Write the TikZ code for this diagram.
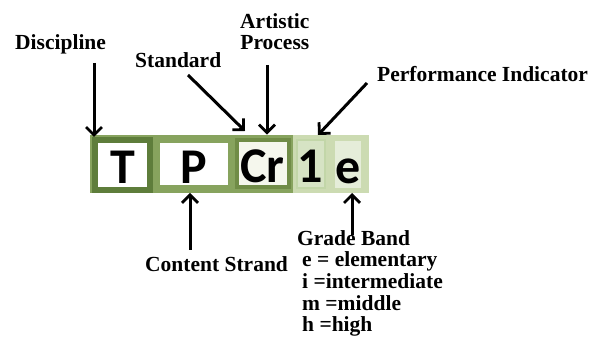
\documentclass[tikz,border=0pt]{standalone}
\usepackage{fontspec}
\setmainfont{Liberation Serif}
\newfontfamily\boxfont{Carlito}
\usepackage{tikz}
\usetikzlibrary{arrows.meta,positioning}

\begin{document}
\begin{tikzpicture}[x=1pt,y=1pt,
  lbl/.style={inner sep=0pt,anchor=base west,font=\bfseries\fontsize{21.5}{21.7}\selectfont},
  letter/.style={inner sep=0pt,text height=38pt,text depth=0pt,font=\boxfont\bfseries\fontsize{50}{50}\selectfont},
  arr/.style={line width=3pt,-{Straight Barb[length=8pt,width=16pt,line width=2.8pt]}}]
%
\useasboundingbox (0,0) rectangle (592,348);
\fill[white] (0,0) rectangle (592,348);
%
\definecolor{cband}{rgb}{0.80,0.86,0.70}
\definecolor{cmid}{rgb}{0.53,0.64,0.37}
\definecolor{cdark}{rgb}{0.37,0.49,0.23}
\definecolor{ccr}{rgb}{0.44,0.55,0.28}
\definecolor{cfcr}{rgb}{0.96,0.97,0.93}
\definecolor{cfone}{rgb}{0.84,0.89,0.77}
\definecolor{cone}{rgb}{0.76,0.84,0.66}
\definecolor{cfe}{rgb}{0.90,0.93,0.85}
%
\node[fill=cband,inner sep=0pt,minimum width=279,minimum height=58,anchor=south west] (band) at (90,155) {};
\node[fill=cmid,inner sep=0pt,minimum width=203,minimum height=58,anchor=south west] (mid) at (90,155) {};
%
\node[letter,draw=cdark,line width=6pt,fill=white,minimum width=55,minimum height=50] (tbox) at (122.5,183) {T};
\node[letter,draw=cmid,line width=3pt,fill=white,minimum width=71,minimum height=45] (pbox) at (194,183.5) {P};
\node[letter,draw=ccr,line width=4pt,fill=cfcr,minimum width=52,minimum height=47] (crbox) at (262.5,184.5) {Cr};
\node[letter,draw=cone,line width=2pt,fill=cfone,minimum width=28,minimum height=48] (onebox) at (310.5,184) {1};
\node[letter,fill=cfe,minimum width=23,minimum height=47] (ebox) at (348,183.5) {e};
%
\node[lbl] (dis) at (15,298) {Discipline};
\node[lbl] (std) at (135,280) {Standard};
\node[lbl,align=center] (art) at (240,298) {Artistic\\Process};
\node[lbl] (perf) at (377,266) {Performance Indicator};
\node[lbl] (cont) at (145,76) {Content Strand};
\node[lbl,align=left] (grade) at (297,16) {Grade Band\\\hspace*{5pt}e = elementary\\\hspace*{5pt}i =intermediate\\\hspace*{5pt}m =middle\\\hspace*{5pt}h =high};
%
\coordinate (disT) at (94,285);
\coordinate (stdT) at (188,273);
\coordinate (artT) at (267,283);
\coordinate (perfT) at (367,265);
\coordinate (contT) at (190,98);
\coordinate (gradeT) at (352,113);
%
\draw[arr] (disT) -- (disT |- tbox.north);
\draw[arr] (stdT) -- (245,217);
\draw[arr] (artT) -- (artT |- band.north);
\draw[arr] (perfT) -- (318,213);
\draw[arr] (contT) -- (contT |- band.south);
\draw[arr] (gradeT) -- (gradeT |- band.south);
%
\end{tikzpicture}
\end{document}
